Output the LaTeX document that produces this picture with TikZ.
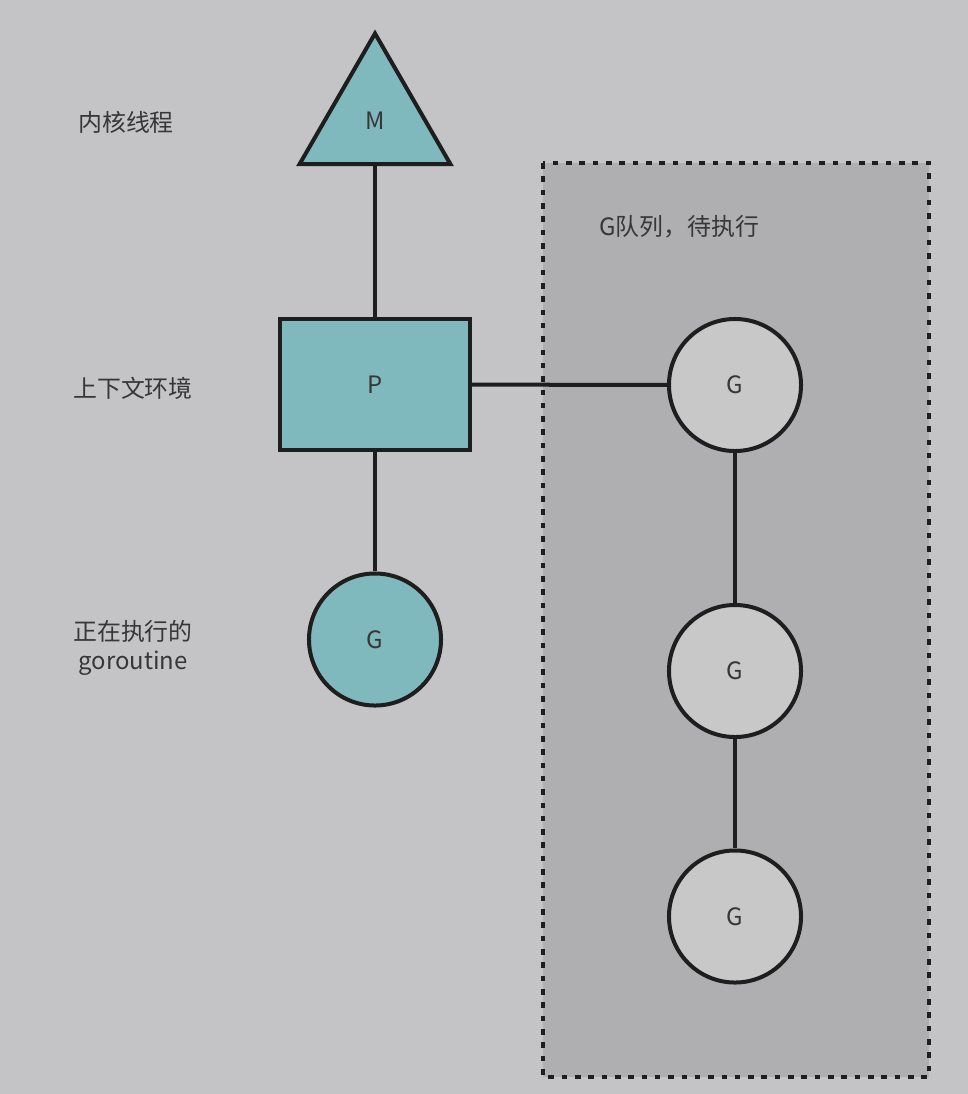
\documentclass[tikz,border=0pt]{standalone}
\usepackage{fontspec}
\setmainfont{Noto Sans CJK SC}
\usetikzlibrary{shapes.geometric}
\definecolor{bgc}{RGB}{196,196,198}
\definecolor{boxc}{RGB}{175,174,176}
\definecolor{tealc}{RGB}{127,185,189}
\definecolor{lightc}{RGB}{200,200,200}
\definecolor{inkc}{RGB}{30,30,30}
\definecolor{txtc}{RGB}{55,55,55}
\tikzset{
  outline/.style={draw=inkc, line width=0.1cm},
  shapefont/.style={font=\fontsize{17}{20}\selectfont, text=txtc},
  gnode/.style={outline, circle, minimum size=3.3cm, inner sep=0pt, shapefont},
  tealfill/.style={fill=tealc},
  lightfill/.style={fill=lightc},
  conn/.style={draw=inkc, line width=0.1cm},
  lbl/.style={font=\fontsize{17}{20.6}\selectfont, text=txtc, align=center, inner sep=0pt},
}
\begin{document}
\begin{tikzpicture}[x=0.025cm,y=-0.025cm]
\fill[bgc] (0,0) rectangle (968,1094);
\useasboundingbox (0,0) rectangle (968,1094);
% queue box
\draw[fill=boxc, draw=inkc, line width=0.1cm, dash pattern=on 0.14cm off 0.193cm] (543,163) rectangle (929,1077);
\node[lbl] (qt) at (679,227) {G队列，待执行};
% left labels
\node[lbl] (lm) at (126,122) {内核线程};
\node[lbl] (lp) at (133,388) {上下文环境};
\node[lbl] (lg) at (133,648) {正在执行的\\goroutine};
% shapes
\node[outline, tealfill, regular polygon, regular polygon sides=3, minimum size=4.35cm, inner sep=0pt] (M) at (375,120.5) {};
\node[shapefont] (Mt) at (375,121) {M};
\node[outline, tealfill, rectangle, minimum width=4.725cm, minimum height=3.275cm, inner sep=0pt, shapefont] (P) at (375,384.5) {P};
\node[gnode, tealfill] (G0) at (375,639.5) {G};
\node[gnode, lightfill] (G1) at (735,385) {G};
\node[gnode, lightfill] (G2) at (735,671) {G};
\node[gnode, lightfill] (G3) at (735,916.5) {G};
% connectors
\draw[conn] (M.south) -- (P.north);
\draw[conn] (P) -- (G0);
\draw[conn] (P) -- (G1);
\draw[conn] (G1) -- (G2);
\draw[conn] (G2) -- (G3);
\end{tikzpicture}
\end{document}
